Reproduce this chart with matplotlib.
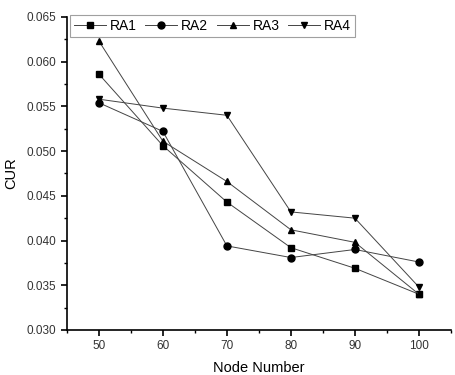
import matplotlib
matplotlib.use("Agg")
import matplotlib.pyplot as plt
from matplotlib.ticker import MultipleLocator

plt.rcParams['font.family'] = ['Liberation Sans', 'DejaVu Sans']

nodes = [50, 60, 70, 80, 90, 100]
ra1 = [0.0586, 0.0506, 0.0443, 0.0392, 0.0369, 0.0340]
ra2 = [0.0554, 0.0522, 0.0394, 0.0381, 0.0390, 0.0376]
ra3 = [0.0623, 0.0511, 0.0466, 0.0412, 0.0398, 0.0340]
ra4 = [0.0558, 0.0548, 0.0540, 0.0432, 0.0425, 0.0348]
labels = ['RA1', 'RA2', 'RA3', 'RA4']

fig = plt.figure(figsize=(4.55, 3.75), dpi=100)
ax = fig.add_axes([0.147, 0.12, 0.844, 0.835])

markers = ['s', 'o', '^', 'v']
for ys, m, lab in zip([ra1, ra2, ra3, ra4], markers, labels):
    ax.plot(nodes, ys, marker=m, color='#444444', lw=0.7, markersize=5,
            markerfacecolor='black', markeredgecolor='black', label=lab)

ax.set_xlim(45, 105)
ax.set_ylim(0.030, 0.065)
ax.xaxis.set_major_locator(MultipleLocator(10))
ax.xaxis.set_minor_locator(MultipleLocator(5))
ax.yaxis.set_major_locator(MultipleLocator(0.005))
ax.yaxis.set_minor_locator(MultipleLocator(0.0025))
ax.yaxis.set_major_formatter(matplotlib.ticker.FormatStrFormatter('%.3f'))
ax.spines['top'].set_visible(False)
ax.spines['right'].set_visible(False)
ax.spines['left'].set_linewidth(1.2)
ax.spines['bottom'].set_linewidth(1.2)
ax.tick_params(axis='both', which='major', direction='out', length=4, width=1.2,
               labelsize=8.5, labelcolor='#333333')
ax.tick_params(axis='both', which='minor', direction='out', length=2.5, width=1)

ax.set_xlabel('Node Number', fontsize=10.5, labelpad=6)
ax.set_ylabel('CUR', fontsize=10.5, labelpad=6)

leg = ax.legend(ncol=4, loc='upper left', bbox_to_anchor=(0.0, 1.015), fontsize=10,
                frameon=True, fancybox=False, edgecolor='#888888',
                handlelength=2.3, handletextpad=0.3, columnspacing=0.6,
                borderpad=0.3, borderaxespad=0.2)
leg.get_frame().set_linewidth(0.8)

fig.savefig('out.png', dpi=100)
